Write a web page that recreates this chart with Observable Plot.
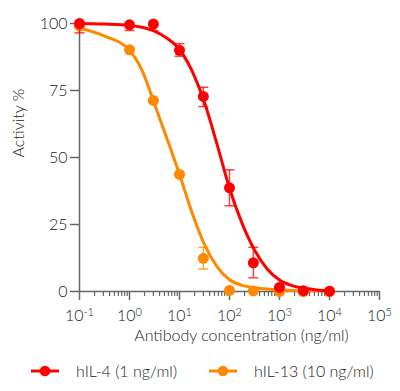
<!DOCTYPE html>
<html>
<head>
<meta charset="utf-8">
<script src="https://cdn.jsdelivr.net/npm/d3@7"></script>
<script src="https://cdn.jsdelivr.net/npm/@observablehq/plot@0.6"></script>
<style>
  body { margin: 0; background: #fff; font-family: Lato, "Open Sans", sans-serif; }
  #legend { position: relative; width: 400px; height: 41px; display: flex; align-items: center; padding-left: 31px; box-sizing: border-box; font-size: 16px; font-weight: 300; color: #222; white-space: nowrap; }
  .item { display: flex; align-items: center; gap: 17px; margin-right: 32px; flex-shrink: 0; }
  .item span { white-space: nowrap; }
  .item svg { display: block; flex-shrink: 0; }
</style>
</head>
<body>
<div id="chart"></div>
<div id="legend"></div>
<script>
// ---- data ----
const concentrations = [0.1, 1, 3, 10, 30, 100, 300, 1000, 3000, 10000];
const il4Mean = [100, 99.5, 99.8, 90, 72.8, 38.7, 10.7, 1.5, 0.3, 0.1];
const il4Low  = [96.5, 97.4, 97.4, 87.8, 69, 32, 5.1, null, null, null];
const il4High = [100, 100, 100, 92.5, 76.2, 45.4, 16.5, null, null, null];
const il13Mean = [99, 90.2, 71.3, 43.7, 12.4, 0.4, 0.2, 0, 0, 0];
const il13Low  = [null, null, null, null, 8.4, null, null, null, null, null];
const il13High = [null, null, null, null, 16.5, null, null, null, null, null];
const fitX = [0.1, 0.3162, 1, 1.778, 3.162, 5.623, 10, 17.78, 31.62, 56.23, 100, 177.8, 316.2, 562.3, 1000, 1778, 3162, 5623, 10000];
const il4Fit  = [100, 99.8, 99.3, 98.6, 97.2, 94.5, 90.3, 82.3, 70.5, 55, 38.5, 25.5, 15.5, 8.5, 4.3, 2.2, 1.2, 0.6, 0.3];
const il13Fit = [98.3, 95.3, 90, 82.5, 70, 57, 43.7, 29.5, 17.5, 9.3, 4.4, 2.3, 1.4, 0.9, 0.6, 0.4, 0.3, 0.25, 0.2];
const seriesNames = ["hIL-4 (1 ng/ml)", "hIL-13 (10 ng/ml)"];
const seriesColors = ["#ff0000", "#ff8800"];
const yTicks = [0, 25, 50, 75, 100];
const xMajorTicks = [0.1, 1, 10, 100, 1000, 10000, 100000];
const xTickExponents = ["-1", "0", "1", "2", "3", "4", "5"];
const xMinorTicks = [];
xMajorTicks.slice(0, -1).forEach(d => { for (let m = 2; m <= 9; m++) xMinorTicks.push(d * m); });

const pts = (means, lows, highs) => concentrations.map((c, i) => ({x: c, y: means[i], lo: lows[i], hi: highs[i]}));
const il4 = pts(il4Mean, il4Low, il4High);
const il13 = pts(il13Mean, il13Low, il13High);
const fit4 = fitX.map((x, i) => ({x, y: il4Fit[i]}));
const fit13 = fitX.map((x, i) => ({x, y: il13Fit[i]}));

const cap = { draw(ctx) { ctx.moveTo(-5, 0); ctx.lineTo(5, 0); } };
const axisColor = "#666";

function seriesMarks(points, fit, color) {
  const withErr = points.filter(d => d.lo != null);
  return [
    Plot.line(fit, {x: "x", y: "y", stroke: color, strokeWidth: 3, curve: "monotone-x"}),
    Plot.ruleX(withErr, {x: "x", y1: "lo", y2: "hi", stroke: color, strokeOpacity: 0.75, strokeWidth: 1.5}),
    Plot.dot(withErr, {x: "x", y: "lo", symbol: cap, stroke: color, strokeOpacity: 0.75, strokeWidth: 1.5, fill: "none"}),
    Plot.dot(withErr.filter(d => d.hi < 100), {x: "x", y: "hi", symbol: cap, stroke: color, strokeOpacity: 0.75, strokeWidth: 1.5, fill: "none"}),
    Plot.dot(points, {x: "x", y: "y", r: 5.5, fill: color})
  ];
}

const svg = Plot.plot({
  width: 400,
  height: 350,
  marginLeft: 79,
  marginRight: 21,
  marginTop: 23,
  marginBottom: 59,
  style: {fontFamily: "Lato, 'Open Sans', sans-serif", fontSize: "16px", fontWeight: 300, color: "#222", background: "#fff", overflow: "visible"},
  x: {type: "log", domain: [0.1, 100000]},
  y: {domain: [0, 100]},
  marks: [
    Plot.axisY({ticks: yTicks, tickSize: 9, tickPadding: 3, stroke: axisColor, strokeWidth: 1.5, fill: "#222", fontSize: 16, label: null}),
    Plot.axisX({ticks: xMinorTicks, tickSize: 5, tickFormat: () => "", stroke: axisColor, strokeWidth: 1.2, label: null}),
    Plot.axisX({ticks: xMajorTicks, tickSize: 9, tickPadding: 9, stroke: axisColor, strokeWidth: 1.5, fill: "#222", fontSize: 16, tickFormat: d => xTickExponents[xMajorTicks.indexOf(d)], label: null}),
    Plot.ruleY([0], {stroke: axisColor, strokeWidth: 1.5}),
    Plot.ruleX([0.1], {stroke: axisColor, strokeWidth: 1.5}),
    Plot.text(["Activity %"], {frameAnchor: "left", dx: -61, rotate: -90, fontSize: 16, fill: "#222"}),
    Plot.text(["Antibody concentration (ng/ml)"], {frameAnchor: "bottom", dx: 12, dy: 49, fontSize: 16, fill: "#222"}),
    ...seriesMarks(il13, fit13, seriesColors[1]),
    ...seriesMarks(il4, fit4, seriesColors[0])
  ]
});

// superscript exponents on x tick labels
d3.select(svg).selectAll('g[aria-label="x-axis tick label"] text').each(function () {
  const e = this.textContent;
  if (!e) return;
  const t = d3.select(this);
  t.text(null);
  t.append("tspan").text("10");
  t.append("tspan").attr("dy", "-0.45em").attr("font-size", 11).text(e);
});

document.getElementById("chart").appendChild(svg);

const legend = d3.select("#legend");
seriesNames.forEach((name, i) => {
  const item = legend.append("div").attr("class", "item");
  const s = item.append("svg").attr("width", 28).attr("height", 12);
  s.append("line").attr("x1", 0).attr("x2", 28).attr("y1", 6).attr("y2", 6).attr("stroke", seriesColors[i]).attr("stroke-width", 3);
  s.append("circle").attr("cx", 14).attr("cy", 6).attr("r", 5.3).attr("fill", seriesColors[i]);
  item.append("span").text(name);
});
</script>
</body>
</html>
